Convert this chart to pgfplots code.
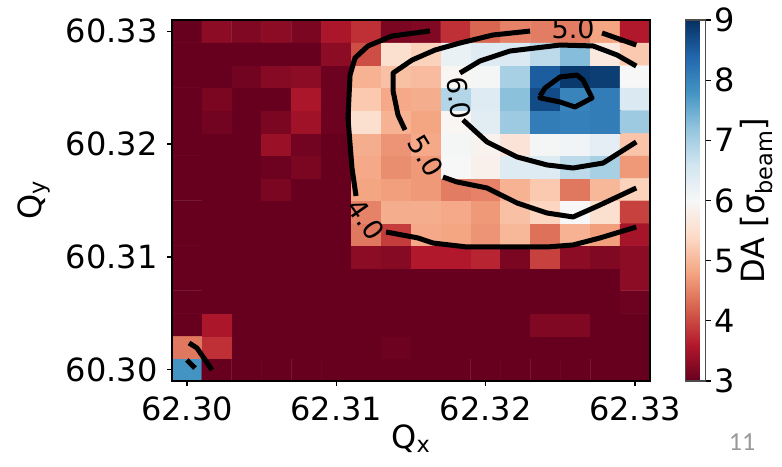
\documentclass[border=0pt]{standalone}
\usepackage{pgfplots}
\pgfplotsset{compat=1.18}
\usepackage{fontspec}
\setmainfont{DejaVu Sans}
\newfontfamily\slidefont{Carlito}

% matplotlib RdBu
\pgfplotsset{
  colormap={rdbu}{rgb255=(103,0,31) rgb255=(178,24,43) rgb255=(214,96,77)
    rgb255=(244,165,130) rgb255=(253,219,199) rgb255=(247,247,247)
    rgb255=(209,229,240) rgb255=(146,197,222) rgb255=(67,147,195)
    rgb255=(33,102,172) rgb255=(5,48,97)},
}
\newcommand{\bigfont}{\fontsize{32}{38}\selectfont}
\newcommand{\clabelfont}{\fontsize{27}{32}\selectfont}

\begin{document}
\begin{tikzpicture}
\begin{axis}[
  at={(0,0)}, anchor=south west,
  scale only axis, width=478pt, height=361pt,
  xmin=62.299, xmax=62.331, ymin=60.299, ymax=60.331,
  enlargelimits=false, axis on top,
  xtick={62.30,62.31,62.32,62.33}, ytick={60.30,60.31,60.32,60.33},
  scaled ticks=false,
  /pgf/number format/assume math mode=true,
  xticklabel style={yshift=-7pt, /pgf/number format/.cd, fixed, fixed zerofill, precision=2},
  yticklabel style={xshift=-6pt, /pgf/number format/.cd, fixed, fixed zerofill, precision=2},
  tick label style={font=\bigfont},
  label style={font=\bigfont},
  tick align=outside, tick pos=left, major tick length=5pt,
  every tick/.style={black, line width=1.2pt},
  axis line style={line width=1.2pt},
  xlabel={Q\textsubscript{x}}, ylabel={Q\textsubscript{y}},
  xlabel style={at={(axis description cs:0.5,-0.16)}, anchor=center},
  ylabel style={at={(axis description cs:-0.2887,0.5)}, anchor=center},
  colormap name=rdbu, point meta min=3, point meta max=9,
  colorbar,
  colorbar style={
    width=20pt,
    at={(parent axis.north east)}, anchor=north west, xshift=27pt,
    ytick={3,4,5,6,7,8,9},
    ytick pos=right, yticklabel pos=right,
    tick align=outside, major tick length=5pt,
    every tick/.style={black, line width=1.2pt},
    axis line style={line width=1.2pt, black!70},
    /pgf/number format/assume math mode=true,
    tick label style={font=\bigfont},
    ylabel={DA [σ\textsubscript{beam}]},
    ylabel style={font=\bigfont, at={(axis description cs:3.55,0.5)}, anchor=center},
  },
]
% dynamic aperture on the tune grid
\addplot[matrix plot*, mesh/cols=16, point meta=explicit] coordinates {
(62.300,60.300)[7.8] (62.302,60.300)[3.0] (62.304,60.300)[3.0] (62.306,60.300)[3.0] (62.308,60.300)[3.0] (62.310,60.300)[3.0] (62.312,60.300)[3.0] (62.314,60.300)[3.0] (62.316,60.300)[3.0] (62.318,60.300)[3.0] (62.320,60.300)[3.0] (62.322,60.300)[3.0] (62.324,60.300)[3.0] (62.326,60.300)[3.0] (62.328,60.300)[3.0] (62.330,60.300)[3.0]
(62.300,60.302)[4.4] (62.302,60.302)[3.8] (62.304,60.302)[3.0] (62.306,60.302)[3.0] (62.308,60.302)[3.0] (62.310,60.302)[3.0] (62.312,60.302)[3.0] (62.314,60.302)[3.05] (62.316,60.302)[3.0] (62.318,60.302)[3.0] (62.320,60.302)[3.0] (62.322,60.302)[3.0] (62.324,60.302)[3.0] (62.326,60.302)[3.0] (62.328,60.302)[3.0] (62.330,60.302)[3.0]
(62.300,60.304)[3.0] (62.302,60.304)[3.55] (62.304,60.304)[3.0] (62.306,60.304)[3.0] (62.308,60.304)[3.0] (62.310,60.304)[3.0] (62.312,60.304)[3.0] (62.314,60.304)[3.0] (62.316,60.304)[3.0] (62.318,60.304)[3.0] (62.320,60.304)[3.0] (62.322,60.304)[3.0] (62.324,60.304)[3.2] (62.326,60.304)[3.2] (62.328,60.304)[3.0] (62.330,60.304)[3.0]
(62.300,60.306)[3.0] (62.302,60.306)[3.0] (62.304,60.306)[3.0] (62.306,60.306)[3.0] (62.308,60.306)[3.0] (62.310,60.306)[3.0] (62.312,60.306)[3.0] (62.314,60.306)[3.0] (62.316,60.306)[3.0] (62.318,60.306)[3.0] (62.320,60.306)[3.0] (62.322,60.306)[3.0] (62.324,60.306)[3.0] (62.326,60.306)[3.0] (62.328,60.306)[3.0] (62.330,60.306)[3.05]
(62.300,60.308)[3.0] (62.302,60.308)[3.0] (62.304,60.308)[3.0] (62.306,60.308)[3.0] (62.308,60.308)[3.0] (62.310,60.308)[3.0] (62.312,60.308)[3.0] (62.314,60.308)[3.0] (62.316,60.308)[3.0] (62.318,60.308)[3.0] (62.320,60.308)[3.0] (62.322,60.308)[3.0] (62.324,60.308)[3.0] (62.326,60.308)[3.0] (62.328,60.308)[3.0] (62.330,60.308)[3.3]
(62.300,60.310)[3.0] (62.302,60.310)[3.0] (62.304,60.310)[3.0] (62.306,60.310)[3.0] (62.308,60.310)[3.0] (62.310,60.310)[3.0] (62.312,60.310)[3.3] (62.314,60.310)[3.25] (62.316,60.310)[3.6] (62.318,60.310)[3.6] (62.320,60.310)[3.7] (62.322,60.310)[3.15] (62.324,60.310)[3.95] (62.326,60.310)[3.3] (62.328,60.310)[3.2] (62.330,60.310)[3.3]
(62.300,60.312)[3.0] (62.302,60.312)[3.0] (62.304,60.312)[3.0] (62.306,60.312)[3.0] (62.308,60.312)[3.0] (62.310,60.312)[3.0] (62.312,60.312)[4.4] (62.314,60.312)[3.9] (62.316,60.312)[4.85] (62.318,60.312)[4.8] (62.320,60.312)[4.65] (62.322,60.312)[5.0] (62.324,60.312)[4.35] (62.326,60.312)[4.95] (62.328,60.312)[4.75] (62.330,60.312)[3.5]
(62.300,60.314)[3.0] (62.302,60.314)[3.0] (62.304,60.314)[3.0] (62.306,60.314)[3.0] (62.308,60.314)[3.0] (62.310,60.314)[3.0] (62.312,60.314)[4.5] (62.314,60.314)[4.9] (62.316,60.314)[4.9] (62.318,60.314)[4.85] (62.320,60.314)[4.7] (62.322,60.314)[5.1] (62.324,60.314)[5.35] (62.326,60.314)[6.0] (62.328,60.314)[5.5] (62.330,60.314)[3.95]
(62.300,60.316)[3.0] (62.302,60.316)[3.0] (62.304,60.316)[3.0] (62.306,60.316)[3.15] (62.308,60.316)[3.0] (62.310,60.316)[3.0] (62.312,60.316)[4.8] (62.314,60.316)[4.75] (62.316,60.316)[4.7] (62.318,60.316)[4.45] (62.320,60.316)[4.5] (62.322,60.316)[4.95] (62.324,60.316)[5.2] (62.326,60.316)[4.4] (62.328,60.316)[5.0] (62.330,60.316)[5.3]
(62.300,60.318)[3.0] (62.302,60.318)[3.0] (62.304,60.318)[3.0] (62.306,60.318)[3.05] (62.308,60.318)[3.15] (62.310,60.318)[3.0] (62.312,60.318)[4.85] (62.314,60.318)[4.6] (62.316,60.318)[4.7] (62.318,60.318)[6.0] (62.320,60.318)[5.85] (62.322,60.318)[6.4] (62.324,60.318)[6.4] (62.326,60.318)[6.8] (62.328,60.318)[7.0] (62.330,60.318)[4.7]
(62.300,60.320)[3.0] (62.302,60.320)[3.0] (62.304,60.320)[3.0] (62.306,60.320)[3.4] (62.308,60.320)[3.1] (62.310,60.320)[3.0] (62.312,60.320)[4.9] (62.314,60.320)[4.65] (62.316,60.320)[4.85] (62.318,60.320)[6.05] (62.320,60.320)[5.9] (62.322,60.320)[5.6] (62.324,60.320)[6.05] (62.326,60.320)[6.1] (62.328,60.320)[6.3] (62.330,60.320)[5.15]
(62.300,60.322)[3.0] (62.302,60.322)[3.1] (62.304,60.322)[3.0] (62.306,60.322)[3.15] (62.308,60.322)[3.45] (62.310,60.322)[3.05] (62.312,60.322)[5.5] (62.314,60.322)[4.95] (62.316,60.322)[4.8] (62.318,60.322)[5.95] (62.320,60.322)[6.35] (62.322,60.322)[7.1] (62.324,60.322)[8.1] (62.326,60.322)[8.05] (62.328,60.322)[8.1] (62.330,60.322)[7.1]
(62.300,60.324)[3.0] (62.302,60.324)[3.15] (62.304,60.324)[3.0] (62.306,60.324)[3.0] (62.308,60.324)[3.55] (62.310,60.324)[3.05] (62.312,60.324)[5.2] (62.314,60.324)[4.85] (62.316,60.324)[4.9] (62.318,60.324)[6.9] (62.320,60.324)[6.4] (62.322,60.324)[7.25] (62.324,60.324)[8.7] (62.326,60.324)[8.0] (62.328,60.324)[8.1] (62.330,60.324)[6.45]
(62.300,60.326)[3.0] (62.302,60.326)[3.0] (62.304,60.326)[3.1] (62.306,60.326)[3.25] (62.308,60.326)[3.3] (62.310,60.326)[3.05] (62.312,60.326)[4.95] (62.314,60.326)[5.1] (62.316,60.326)[5.05] (62.318,60.326)[5.95] (62.320,60.326)[6.05] (62.322,60.326)[7.0] (62.324,60.326)[8.5] (62.326,60.326)[8.9] (62.328,60.326)[8.85] (62.330,60.326)[6.0]
(62.300,60.328)[3.0] (62.302,60.328)[3.0] (62.304,60.328)[3.0] (62.306,60.328)[3.0] (62.308,60.328)[3.0] (62.310,60.328)[3.3] (62.312,60.328)[4.05] (62.314,60.328)[5.5] (62.316,60.328)[5.3] (62.318,60.328)[6.2] (62.320,60.328)[6.4] (62.322,60.328)[6.45] (62.324,60.328)[6.8] (62.326,60.328)[7.3] (62.328,60.328)[5.7] (62.330,60.328)[5.2]
(62.300,60.330)[3.0] (62.302,60.330)[3.3] (62.304,60.330)[3.2] (62.306,60.330)[3.3] (62.308,60.330)[3.15] (62.310,60.330)[3.55] (62.312,60.330)[3.8] (62.314,60.330)[3.15] (62.316,60.330)[3.2] (62.318,60.330)[3.8] (62.320,60.330)[4.25] (62.322,60.330)[4.5] (62.324,60.330)[4.45] (62.326,60.330)[4.45] (62.328,60.330)[4.8] (62.330,60.330)[3.6]
};

% contour lines (levels 4, 5, 6 and the core), broken where labelled
\addplot[black, line width=5pt, line join=round] coordinates {
(62.31627,60.33003) (62.31373,60.32958) (62.31212,60.32870) (62.31125,60.32763)
(62.31092,60.32612) (62.31078,60.32231) (62.31105,60.31788) (62.31132,60.31540)};
\addplot[black, line width=5pt, line join=round] coordinates {
(62.31333,60.31221) (62.31547,60.31168) (62.31647,60.31123) (62.31875,60.31088)
(62.32411,60.31088) (62.32585,60.31106) (62.32765,60.31168) (62.33008,60.31265)};
\addplot[black, line width=5pt, line join=round] coordinates {
(62.32779,60.32985) (62.33008,60.32878)};
\addplot[black, line width=5pt, line join=round] coordinates {
(62.32297,60.33002) (62.32049,60.32967) (62.31828,60.32896) (62.31661,60.32834)
(62.31507,60.32745) (62.31380,60.32630) (62.31380,60.32471) (62.31413,60.32258)
(62.31460,60.32125)};
\addplot[black, line width=5pt, line join=round] coordinates {
(62.31714,60.31708) (62.31808,60.31664) (62.32009,60.31611) (62.32210,60.31478)
(62.32411,60.31389) (62.32585,60.31354) (62.32765,60.31460) (62.33008,60.31611)};
\addplot[black, line width=5pt, line join=round] coordinates {
(62.31828,60.32630) (62.31962,60.32737) (62.32163,60.32825) (62.32498,60.32878)
(62.32719,60.32870) (62.32879,60.32790) (62.33008,60.32692)};
\addplot[black, line width=5pt, line join=round] coordinates {
(62.31848,60.32214) (62.32009,60.32019) (62.32210,60.31886) (62.32411,60.31815)
(62.32585,60.31788) (62.32786,60.31832) (62.33008,60.32019)};
\addplot[black, line width=5pt, line join=round] coordinates {
(62.32364,60.32426) (62.32397,60.32497) (62.32498,60.32595) (62.32611,60.32612)
(62.32652,60.32568) (62.32712,60.32409) (62.32598,60.32329) (62.32498,60.32373)
(62.32364,60.32409) (62.32364,60.32426)};
\addplot[black, line width=5pt, line join=round] coordinates {
(62.30014,60.30237) (62.30067,60.30193) (62.30168,60.29998)};
\addplot[black, line width=5pt, line join=round] coordinates {
(62.30000,60.30086) (62.30054,60.30015)};

\node[font=\clabelfont, rotate=-55] at (axis cs:62.31199,60.31336) {4.0};
\node[font=\clabelfont, rotate=-59] at (axis cs:62.31601,60.31895) {5.0};
\node[font=\clabelfont] at (axis cs:62.32585,60.33020) {5.0};
\node[font=\clabelfont, rotate=-82] at (axis cs:62.31821,60.32409) {6.0};
\end{axis}
\node[font=\slidefont\fontsize{26}{30}\selectfont, text=black!40] at (570pt,-61pt) {11};
\path[use as bounding box] (-172pt,-85pt) rectangle (610pt,381pt);
\end{tikzpicture}
\end{document}
